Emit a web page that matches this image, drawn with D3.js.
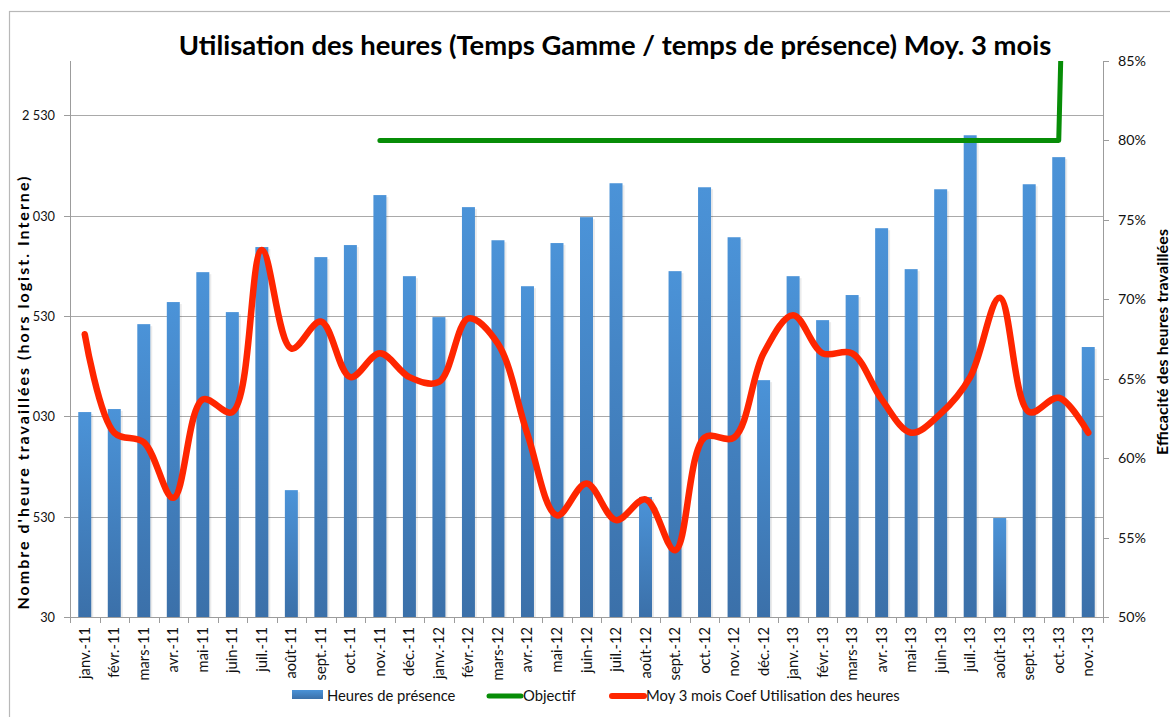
<!DOCTYPE html>
<html>
<head>
<meta charset="utf-8">
<script src="https://cdn.jsdelivr.net/npm/d3@7"></script>
<style>
  body { margin: 0; background: #fff; }
  svg { display: block; font-family: Lato, "Open Sans", sans-serif; }
</style>
</head>
<body>
<div id="chart"></div>
<script>
// months on the x axis
var months = ["janv.-11","févr.-11","mars-11","avr.-11","mai-11","juin-11","juil.-11","août-11","sept.-11","oct.-11","nov.-11","déc.-11",
  "janv.-12","févr.-12","mars-12","avr.-12","mai-12","juin-12","juil.-12","août-12","sept.-12","oct.-12","nov.-12","déc.-12",
  "janv.-13","févr.-13","mars-13","avr.-13","mai-13","juin-13","juil.-13","août-13","sept.-13","oct.-13","nov.-13"];

// Heures de présence (left axis)
var heures = [1051,1066,1489,1599,1748,1549,1873,662,1823,1883,2132,1728,
  1524,2072,1907,1678,1893,2022,2191,628,1753,2171,1922,1210,
  1728,1509,1634,1967,1763,2161,2430,523,2186,2321,1375];

// Moy 3 mois Coef Utilisation des heures (right axis, %)
var coef = [67.8,61.6,61.0,57.5,63.7,62.9,73.1,66.9,68.6,65.1,66.6,65.1,
  64.8,68.8,67.2,61.5,56.4,58.4,56.1,57.4,54.2,61.3,61.3,66.6,
  69.0,66.6,66.6,63.7,61.6,62.8,65.1,70.1,62.9,63.8,61.6];

// Objectif (right axis, %) - last value goes off the top
var objectif = [null,null,null,null,null,null,null,null,null,null,
  80,80,80,80,80,80,80,80,80,80,80,80,80,80,80,80,80,80,80,80,80,80,80,80,155];

var leftTicks = [30,530,1030,1530,2030,2530];
var leftTickLabels = ["30","530","1 030","1 530","2 030","2 530"];
var rightTicks = [50,55,60,65,70,75,80,85];
var rightTickLabels = ["50%","55%","60%","65%","70%","75%","80%","85%"];

var titleText = "Utilisation des heures (Temps Gamme / temps de présence) Moy. 3 mois";
var leftTitle = "Nombre d'heure travaillées (hors logist. Interne)";
var rightTitle = "Efficacité des heures travaillées";
var legendNames = ["Heures de présence","Objectif","Moy 3 mois Coef Utilisation des heures"];

var W = 1170, H = 717;
var plot = {left: 70, right: 1103, top: 61, bottom: 617};

var svg = d3.select("#chart").append("svg")
  .attr("width", W).attr("height", H);

// font size so that a string measures a given width
function fitSize(str, target, weight) {
  var t = svg.append("text").attr("font-size", 20).attr("font-weight", weight || "normal").text(str);
  var w = t.node().getComputedTextLength();
  t.remove();
  return 20 * target / w;
}
var tickSize = fitSize("2 530", 33);
var rtickSize = fitSize("85%", 28);
var xlabSize = fitSize("janv.-11", 52);
var legSize = fitSize(legendNames[2], 254);

var defs = svg.append("defs");
var grad = defs.append("linearGradient").attr("id", "barGrad")
  .attr("x1", 0).attr("y1", 0).attr("x2", 0).attr("y2", 1);
grad.append("stop").attr("offset", "0%").attr("stop-color", "#4b93d8");
grad.append("stop").attr("offset", "100%").attr("stop-color", "#3b70a9");
defs.append("clipPath").attr("id", "plotClip")
  .append("rect").attr("x", plot.left - 10).attr("y", plot.top)
  .attr("width", plot.right - plot.left + 20).attr("height", plot.bottom - plot.top);

// outer border
svg.append("rect")
  .attr("x", 9.5).attr("y", 11.5).attr("width", 1300).attr("height", 900)
  .attr("fill", "none").attr("stroke", "#b8b8b8").attr("stroke-width", 1.2);

// scales
var x = d3.scaleBand().domain(months).range([plot.left, plot.right]).padding(0);
var yL = d3.scaleLinear().domain([30, 2800]).range([plot.bottom, plot.top]);
var yR = d3.scaleLinear().domain([50, 85]).range([plot.bottom, plot.top]);

// gridlines
svg.append("g").selectAll("line").data(leftTicks.slice(1)).join("line")
  .attr("x1", plot.left).attr("x2", plot.right)
  .attr("y1", function(d){ return Math.round(yL(d)) + 0.5; })
  .attr("y2", function(d){ return Math.round(yL(d)) + 0.5; })
  .attr("stroke", "#a9a9a9").attr("stroke-width", 1);

// bars
var bw = x.bandwidth();
var barG = svg.append("g");
barG.selectAll("rect.shadow").data(heures).join("rect")
  .attr("class", "shadow")
  .attr("x", function(d, i){ return x(months[i]) + bw * 0.28 + 2; })
  .attr("y", function(d){ return yL(d) + 2; })
  .attr("width", bw * 0.44)
  .attr("height", function(d){ return plot.bottom - yL(d) - 2; })
  .attr("fill", "#000").attr("opacity", 0.08);
barG.selectAll("rect.bar").data(heures).join("rect")
  .attr("class", "bar")
  .attr("x", function(d, i){ return x(months[i]) + bw * 0.28; })
  .attr("y", function(d){ return yL(d); })
  .attr("width", bw * 0.44)
  .attr("height", function(d){ return plot.bottom - yL(d); })
  .attr("fill", "url(#barGrad)");

// axes lines
var axisCol = "#9c9c9c";
svg.append("line").attr("x1", plot.left + 0.5).attr("x2", plot.left + 0.5)
  .attr("y1", plot.top).attr("y2", plot.bottom).attr("stroke", axisCol);
svg.append("line").attr("x1", plot.right + 0.5).attr("x2", plot.right + 0.5)
  .attr("y1", plot.top).attr("y2", plot.bottom).attr("stroke", axisCol);
svg.append("line").attr("x1", plot.left).attr("x2", plot.right + 1)
  .attr("y1", plot.bottom + 0.5).attr("y2", plot.bottom + 0.5).attr("stroke", axisCol);

// left ticks
svg.append("g").selectAll("line").data(leftTicks).join("line")
  .attr("x1", plot.left - 6).attr("x2", plot.left)
  .attr("y1", function(d){ return Math.round(yL(d)) + 0.5; })
  .attr("y2", function(d){ return Math.round(yL(d)) + 0.5; })
  .attr("stroke", axisCol);
svg.append("g").selectAll("text").data(leftTicks).join("text")
  .attr("x", 55).attr("y", function(d){ return yL(d) + 5; })
  .attr("text-anchor", "end").attr("font-size", tickSize).attr("fill", "#111")
  .text(function(d, i){ return leftTickLabels[i]; });

// right ticks
svg.append("g").selectAll("line").data(rightTicks).join("line")
  .attr("x1", plot.right).attr("x2", plot.right + 6)
  .attr("y1", function(d){ return Math.round(yR(d)) + 0.5; })
  .attr("y2", function(d){ return Math.round(yR(d)) + 0.5; })
  .attr("stroke", axisCol);
svg.append("g").selectAll("text").data(rightTicks).join("text")
  .attr("x", 1118).attr("y", function(d){ return yR(d) + 5; })
  .attr("font-size", rtickSize).attr("fill", "#111")
  .text(function(d, i){ return rightTickLabels[i]; });

// x ticks at category boundaries
var bounds = months.map(function(m){ return x(m); }).concat([plot.right]);
svg.append("g").selectAll("line").data(bounds).join("line")
  .attr("x1", function(d){ return Math.round(d) + 0.5; })
  .attr("x2", function(d){ return Math.round(d) + 0.5; })
  .attr("y1", plot.bottom).attr("y2", plot.bottom + 6)
  .attr("stroke", axisCol);
svg.append("g").selectAll("text").data(months).join("text")
  .attr("transform", function(d){
    return "translate(" + (x(d) + bw / 2 + 5) + "," + (plot.bottom + 10) + ") rotate(-90)";
  })
  .attr("text-anchor", "end").attr("font-size", xlabSize).attr("fill", "#111")
  .text(function(d){ return d; });

// lines
var lineG = svg.append("g").attr("clip-path", "url(#plotClip)");
var objLine = d3.line()
  .defined(function(d){ return d != null; })
  .x(function(d, i){ return x(months[i]) + bw / 2; })
  .y(function(d){ return yR(d); });
lineG.append("path").datum(objectif)
  .attr("d", objLine)
  .attr("fill", "none").attr("stroke", "#078d07").attr("stroke-width", 5)
  .attr("stroke-linecap", "round").attr("stroke-linejoin", "round");

var coefLine = d3.line()
  .x(function(d, i){ return x(months[i]) + bw / 2; })
  .y(function(d){ return yR(d); })
  .curve(d3.curveCatmullRom.alpha(0.5));
lineG.append("path").datum(coef)
  .attr("d", coefLine)
  .attr("fill", "none").attr("stroke", "#ff2600").attr("stroke-width", 6.5)
  .attr("stroke-linecap", "round").attr("stroke-linejoin", "round");

// title
svg.append("text")
  .attr("x", 615).attr("y", 55)
  .attr("text-anchor", "middle").attr("font-weight", "bold")
  .attr("font-size", fitSize(titleText, 873, "bold")).attr("fill", "#000")
  .text(titleText);

// axis titles (left one sits over the tick labels with a white back)
svg.append("rect").attr("x", 13).attr("y", 176).attr("width", 17).attr("height", 436)
  .attr("fill", "#fff");
svg.append("text")
  .attr("transform", "translate(29,393) rotate(-90)")
  .attr("text-anchor", "middle").attr("font-weight", "bold")
  .attr("font-size", 16).attr("textLength", 433).attr("lengthAdjust", "spacing")
  .attr("fill", "#000").text(leftTitle);
svg.append("text")
  .attr("transform", "translate(1168,342) rotate(-90)")
  .attr("text-anchor", "middle").attr("font-weight", "bold")
  .attr("font-size", 16).attr("textLength", 226).attr("lengthAdjust", "spacing")
  .attr("fill", "#000").text(rightTitle);

// legend
var leg = svg.append("g");
leg.append("rect").attr("x", 292).attr("y", 690).attr("width", 31).attr("height", 9)
  .attr("fill", "url(#barGrad)");
leg.append("text").attr("x", 327).attr("y", 701).attr("font-size", legSize).attr("fill", "#111")
  .text(legendNames[0]);
leg.append("line").attr("x1", 489).attr("x2", 521).attr("y1", 696).attr("y2", 696)
  .attr("stroke", "#078d07").attr("stroke-width", 5).attr("stroke-linecap", "round");
leg.append("text").attr("x", 523).attr("y", 701).attr("font-size", legSize).attr("fill", "#111")
  .text(legendNames[1]);
leg.append("line").attr("x1", 612).attr("x2", 644).attr("y1", 696).attr("y2", 696)
  .attr("stroke", "#ff2600").attr("stroke-width", 6).attr("stroke-linecap", "round");
leg.append("text").attr("x", 646).attr("y", 701).attr("font-size", legSize).attr("fill", "#111")
  .text(legendNames[2]);
</script>
</body>
</html>
